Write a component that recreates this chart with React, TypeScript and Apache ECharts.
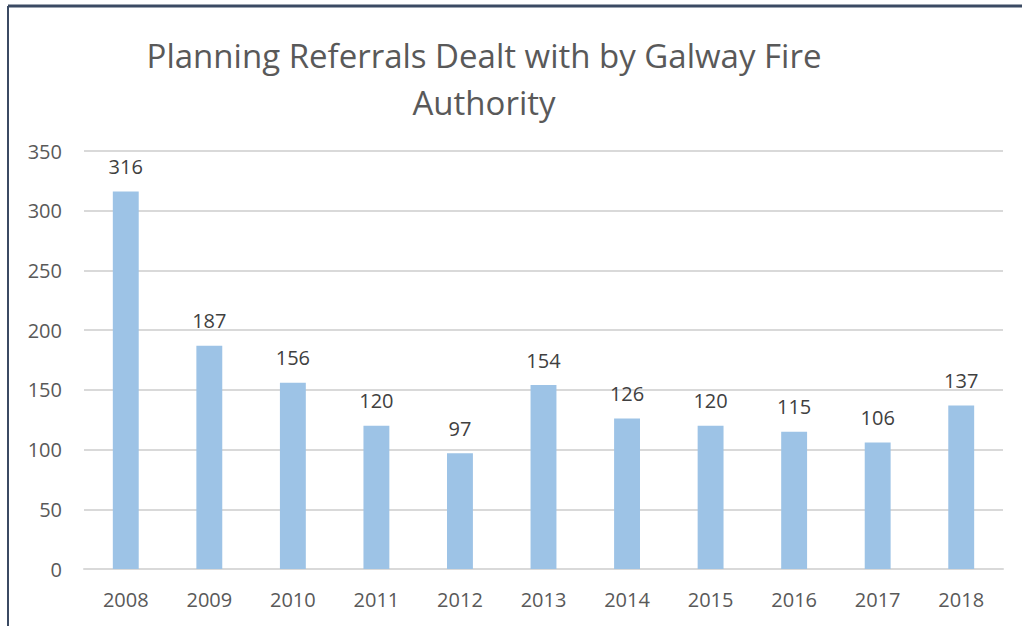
import React, { useEffect, useRef } from "react";
import * as echarts from "echarts";

const years = ["2008", "2009", "2010", "2011", "2012", "2013", "2014", "2015", "2016", "2017", "2018"];
const referrals = [316, 187, 156, 120, 97, 154, 126, 120, 115, 106, 137];
const titleText = "Planning Referrals Dealt with by Galway Fire\nAuthority";

export default function App() {
  const ref = useRef<HTMLDivElement>(null);
  useEffect(() => {
    const chart = echarts.init(ref.current!, null, { renderer: "svg" });
    const font = "Open Sans, Noto Sans, sans-serif";
    chart.setOption({
      animation: false,
      title: {
        text: titleText,
        left: 479,
        top: 27,
        textAlign: "center",
        textStyle: { fontFamily: font, fontSize: 33, fontWeight: "normal", color: "#595959", lineHeight: 47 },
      },
      grid: { left: 84, right: 19, top: 151, bottom: 57 },
      xAxis: {
        type: "category",
        data: years,
        axisLine: { lineStyle: { color: "#d9d9d9", width: 2 } },
        axisTick: { show: false },
        axisLabel: { fontFamily: font, fontSize: 20, color: "#595959", margin: 20 },
      },
      yAxis: {
        type: "value",
        min: 0,
        max: 350,
        interval: 50,
        axisLine: { show: false },
        axisTick: { show: false },
        splitLine: { lineStyle: { color: "#d9d9d9", width: 2 } },
        axisLabel: { fontFamily: font, fontSize: 20, color: "#595959", margin: 22 },
      },
      series: [
        {
          type: "bar",
          data: referrals,
          barWidth: "31%",
          itemStyle: { color: "#9dc3e6" },
          label: { show: true, position: "top", distance: 15, fontFamily: font, fontSize: 20, color: "#404040" },
        },
      ],
      graphic: [
        { type: "line", shape: { x1: 8, y1: 6, x2: 1022, y2: 6 }, style: { stroke: "#3b4a63", lineWidth: 3 } },
        { type: "line", shape: { x1: 8, y1: 6, x2: 8, y2: 626 }, style: { stroke: "#3b4a63", lineWidth: 2 } },
      ],
    });
    return () => chart.dispose();
  }, []);
  return <div ref={ref} style={{ width: 1022, height: 626, position: "absolute", left: 0, top: 0 }} />;
}
